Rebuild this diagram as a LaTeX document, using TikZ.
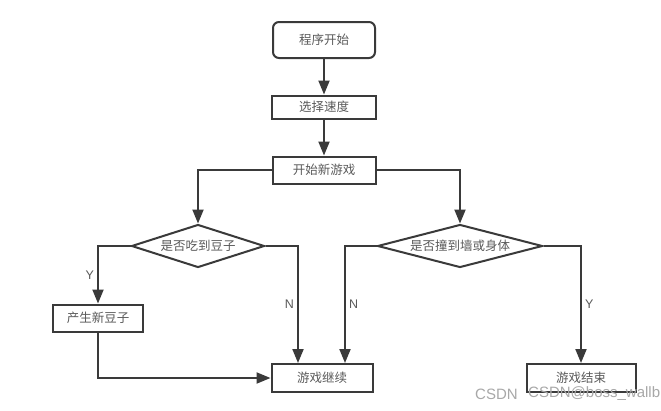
\documentclass[tikz,border=0pt]{standalone}
\usepackage{fontspec}
\setmainfont{Noto Sans CJK SC}
\newfontfamily\wmfont{Liberation Sans}
\usetikzlibrary{arrows.meta,shapes.geometric}
\definecolor{linec}{HTML}{3A3A3A}
\definecolor{txtc}{HTML}{5A5A5A}
\definecolor{wmc}{HTML}{A8A8A8}
\begin{document}
\begin{tikzpicture}[x=1pt,y=-1pt,
  box/.style={draw=linec, line width=2pt, fill=white, inner sep=0pt, text=txtc,
    font=\fontsize{12.5}{13}\selectfont},
  dia/.style={box, diamond, aspect=3.5},
  arr/.style={draw=linec, line width=2pt, -{Triangle[length=14pt,width=11pt]}},
  lab/.style={text=txtc, font=\wmfont\fontsize{12.5}{12.5}\selectfont, inner sep=3pt},
  wm/.style={text=wmc, font=\wmfont\fontsize{15}{15}\selectfont, inner sep=0pt}]
\useasboundingbox (0,0) rectangle (661,410);
\fill[white] (0,0) rectangle (661,410);
\node[box, rounded corners=6pt, minimum width=102pt, minimum height=36pt] (start) at (324,40) {程序开始};
\node[box, minimum width=104pt, minimum height=23pt] (speed) at (324,107) {选择速度};
\node[box, minimum width=103pt, minimum height=27pt] (newgame) at (324,170) {开始新游戏};
\node[dia, minimum width=133pt, minimum height=43pt] (d1) at (198,246) {是否吃到豆子};
\node[dia, minimum width=165pt, minimum height=43pt] (d2) at (460,246) {是否撞到墙或身体};
\node[box, minimum width=90pt, minimum height=27pt] (bean) at (98,318) {产生新豆子};
\node[box, minimum width=101pt, minimum height=28pt] (cont) at (322,378) {游戏继续};
\node[box, minimum width=109pt, minimum height=28pt] (over) at (581,378) {游戏结束};
\draw[arr] (start) -- (speed);
\draw[arr] (speed) -- (newgame);
\draw[arr] (newgame.west) -| (d1.north);
\draw[arr] (newgame.east) -| (d2.north);
\draw[arr] (d1.west) -| node[lab, pos=0.75, left] {Y} (bean.north);
\draw[arr] (d1.east) -| node[lab, pos=0.75, left] {N} ([xshift=-24pt]cont.north);
\draw[arr] (d2.west) -| node[lab, pos=0.75, right] {N} ([xshift=23pt]cont.north);
\draw[arr] (d2.east) -| node[lab, pos=0.75, right] {Y} (over.north);
\draw[arr] (bean.south) |- (cont.west);
\node[wm, anchor=west] (wm1) at (475,394) {CSDN};
\node[wm, anchor=west] (wm2) at (528,394) {CSDN@boss\_wallb};
\end{tikzpicture}
\end{document}
